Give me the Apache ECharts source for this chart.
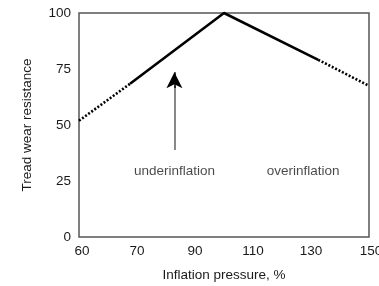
<!DOCTYPE html>
<html>
<head>
<meta charset="utf-8">
<script src="https://cdn.jsdelivr.net/npm/echarts@6/dist/echarts.min.js"></script>
<style>html,body{margin:0;padding:0;background:#fff;}#c{width:379px;height:286px;}</style>
</head>
<body>
<div id="c"></div>
<script>
// Tick labels as printed on the original x axis (evenly spaced)
var xTickLabels = ['60', '70', '90', '110', '130', '150'];
var yTicks = [0, 25, 50, 75, 100];

// Curve pieces: [inflation pressure (axis units), tread wear resistance]
var leftDotted = [[50, 51.9], [67.6, 68.4]];
var solidPart = [[67.6, 68.4], [100, 100], [132.5, 79.1]];
var rightDotted = [[132.5, 79.1], [150, 67.5]];

// Annotations
var annotations = [[82.9, 29.5, 'underinflation'], [127.3, 29.5, 'overinflation']];
var arrowShaft = [[82.9, 38.8], [82.9, 67.5]];
var arrowHead = [[82.9, 66.5], [82.9, 73.6]];

var font = '"Liberation Sans", Arial, sans-serif';
var txt = '#1a1a1a';
var chart = echarts.init(document.getElementById('c'));
chart.setOption({
  animation: false,
  grid: { left: 79, right: 10, top: 13, bottom: 49, containLabel: false, outerBoundsMode: 'none',
    show: true, borderColor: '#555', borderWidth: 1.5, backgroundColor: 'transparent' },
  xAxis: {
    type: 'value', min: 50, max: 150, interval: 20,
    axisLine: { show: false }, axisTick: { show: false }, splitLine: { show: false },
    axisLabel: { margin: 7, color: txt, fontSize: 13.5, fontFamily: font,
      formatter: function (v) {
        var i = Math.round((v - 50) / 20);
        var s = xTickLabels[i];
        if (i === 0) return '{f|' + s + '}';
        if (i === xTickLabels.length - 1) return '{l|' + s + '}';
        return s;
      },
      rich: {
        f: { padding: [0, 0, 0, 6], color: txt, fontSize: 13.5, fontFamily: font },
        l: { padding: [0, 0, 0, 4], color: txt, fontSize: 13.5, fontFamily: font }
      } },
    name: 'Inflation pressure, %', nameLocation: 'middle', nameGap: 31,
    nameTextStyle: { color: txt, fontSize: 13.5, fontFamily: font }
  },
  yAxis: {
    type: 'value', min: yTicks[0], max: yTicks[yTicks.length - 1], interval: 25,
    axisLine: { show: false }, axisTick: { show: false }, splitLine: { show: false },
    axisLabel: { margin: 8, color: txt, fontSize: 13.5, fontFamily: font },
    name: 'Tread wear resistance', nameLocation: 'middle', nameGap: 45,
    nameTextStyle: { color: txt, fontSize: 13.5, fontFamily: font }
  },
  series: [
    { type: 'line', data: leftDotted, symbol: 'none', clip: false,
      lineStyle: { color: '#000', width: 2.6, type: [2, 1.8] } },
    { type: 'line', data: solidPart, symbol: 'none', clip: false,
      lineStyle: { color: '#000', width: 2.6 } },
    { type: 'line', data: rightDotted, symbol: 'none', clip: false,
      lineStyle: { color: '#000', width: 2.6, type: [2, 1.8] } },
    { type: 'scatter', data: annotations, symbolSize: 0, silent: true,
      label: { show: true, position: 'inside', color: txt, fontSize: 13.5, fontFamily: font,
        formatter: function (p) { return p.value[2]; } },
      markLine: {
        silent: true, animation: false, label: { show: false },
        data: [
          [{ coord: arrowShaft[0], symbol: 'none', lineStyle: { color: '#888', width: 2, type: 'solid' } },
           { coord: arrowShaft[1], symbol: 'none' }],
          [{ coord: arrowHead[0], symbol: 'none', lineStyle: { color: '#000', width: 1.5, type: 'solid' } },
           { coord: arrowHead[1], symbol: 'arrow', symbolSize: [12, 16] }]
        ]
      }
    }
  ]
});
</script>
</body>
</html>
